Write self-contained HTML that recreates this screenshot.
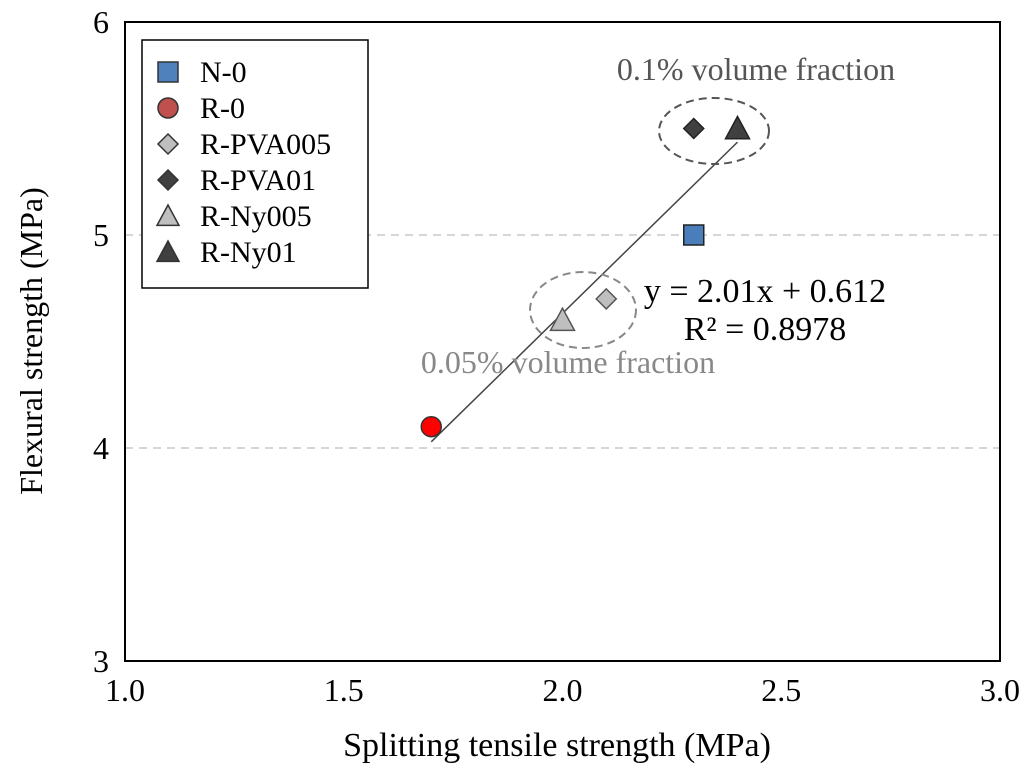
<!DOCTYPE html>
<html><head><meta charset="utf-8"><style>
body{margin:0;background:#fff}
svg{display:block;font-family:"Liberation Serif",serif}
</style></head><body>
<svg width="1024" height="778" id="svg">
<g id="grid"></g>
<rect x="125" y="22" width="875" height="639" fill="none" stroke="#000" stroke-width="2"/>
<g id="axes"></g>
<text x="557" y="756" text-anchor="middle" font-size="34">Splitting tensile strength (MPa)</text>
<text transform="translate(42,341) rotate(-90)" text-anchor="middle" font-size="32">Flexural strength (MPa)</text>
<g id="fit"></g>
<ellipse cx="714" cy="131" rx="55" ry="33" fill="none" stroke="#555" stroke-width="2" stroke-dasharray="8,5"/>
<ellipse cx="583" cy="310" rx="53" ry="38" fill="none" stroke="#888" stroke-width="2" stroke-dasharray="8,5"/>
<text x="756" y="80" text-anchor="middle" font-size="32" fill="#555">0.1% volume fraction</text>
<text x="568" y="373" text-anchor="middle" font-size="32" fill="#888">0.05% volume fraction</text>
<text x="765" y="302" text-anchor="middle" font-size="34">y = 2.01x + 0.612</text>
<text x="765" y="340" text-anchor="middle" font-size="34">R² = 0.8978</text>
<g id="pts"></g>
<rect x="142" y="40" width="226" height="248" fill="#fff" stroke="#000" stroke-width="1.5"/>
<g id="leg"></g>
</svg>
<script>
const names=["N-0","R-0","R-PVA005","R-PVA01","R-Ny005","R-Ny01"];
const xVals=[2.3,1.7,2.1,2.3,2.0,2.4];
const yVals=[5.0,4.1,4.7,5.5,4.6,5.5];
const xTicks=["1.0","1.5","2.0","2.5","3.0"];
const yTicks=["3","4","5","6"];
const slope=2.01, intercept=0.612;
const NS="http://www.w3.org/2000/svg";
const X=v=>125+(v-1)*437.5, Y=v=>661-(v-3)*213;
function mk(t,a,p){const e=document.createElementNS(NS,t);for(const k in a)e.setAttribute(k,a[k]);p.appendChild(e);return e;}
const styles=[["square","#4a7ebb","#222"],["circle","#ff0000","#333"],["diamond","#bfbfbf","#555"],["diamond","#404040","#222"],["triangle","#bfbfbf","#555"],["triangle","#404040","#222"]];
const legStyles=[["square","#4f81bd"],["circle","#c0504d"],["diamond","#bfbfbf"],["diamond","#404040"],["triangle","#bfbfbf"],["triangle","#404040"]];
function marker(p,shape,cx,cy,fill,stroke,s){
 if(shape==="square")return mk("rect",{x:cx-s,y:cy-s,width:2*s,height:2*s,fill:fill,stroke:stroke,"stroke-width":1.5},p);
 if(shape==="circle")return mk("circle",{cx:cx,cy:cy,r:s,fill:fill,stroke:stroke,"stroke-width":1.5},p);
 if(shape==="diamond")return mk("polygon",{points:`${cx},${cy-s} ${cx+s},${cy} ${cx},${cy+s} ${cx-s},${cy}`,fill:fill,stroke:stroke,"stroke-width":1.5},p);
 return mk("polygon",{points:`${cx},${cy-s} ${cx+s},${cy+s*0.85} ${cx-s},${cy+s*0.85}`,fill:fill,stroke:stroke,"stroke-width":1.5},p);
}
const grid=document.getElementById("grid"),axes=document.getElementById("axes");
yTicks.forEach(t=>{const v=+t,y=Y(v);
 if(v>3&&v<6){const l=mk("line",{x1:125,x2:1000,y1:y,y2:y,stroke:"#c8c8c8","stroke-width":1.5,"stroke-dasharray":"8,6"},grid);
 
 }
 const tx=mk("text",{x:109,y:y+11,"text-anchor":"end","font-size":32},axes);tx.textContent=t;
 
 
});
xTicks.forEach(t=>{const x=X(+t);
 const tx=mk("text",{x:x,y:701,"text-anchor":"middle","font-size":32},axes);tx.textContent=t;
 
 
});
const fit=document.getElementById("fit");
const x0=Math.min(...xVals),x1=Math.max(...xVals);
const fl=mk("line",{x1:X(x0),y1:Y(slope*x0+intercept),x2:X(x1),y2:Y(slope*x1+intercept),stroke:"#444","stroke-width":1.5},fit);


const pts=document.getElementById("pts");
names.forEach((n,i)=>{const s=styles[i];
 const m=marker(pts,s[0],X(xVals[i]),Y(yVals[i]),s[1],s[2],s[0]==="circle"?10:(s[0]==="triangle"?12:10));
 
 
});
const leg=document.getElementById("leg");
names.forEach((n,i)=>{const y=72+i*36;const s=legStyles[i];
 const m=marker(leg,s[0],168,y,s[1],"#333",s[0]==="triangle"?11:10);
 
 
 const t=mk("text",{x:200,y:y+10,"font-size":30},leg);t.textContent=n;
 
 
});
</script>
</body></html>
